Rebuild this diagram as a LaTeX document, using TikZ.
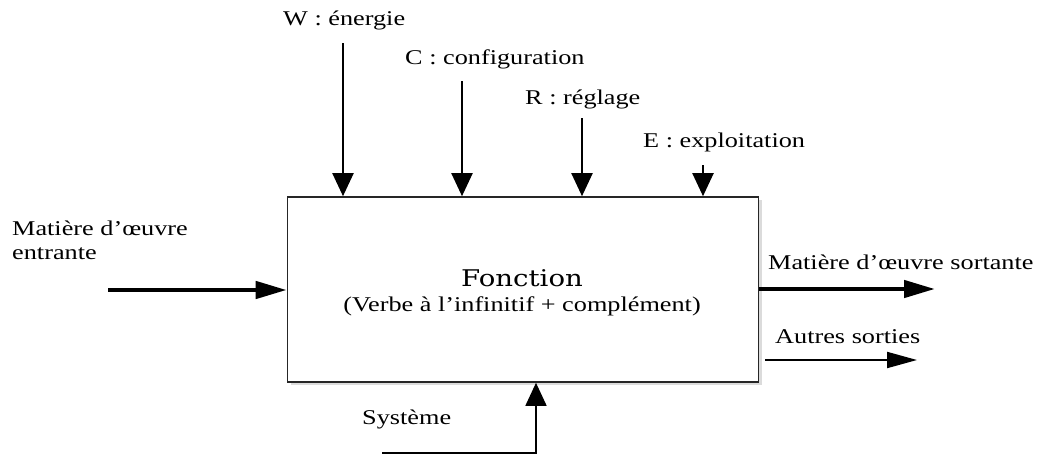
\documentclass[tikz,border=0pt]{standalone}
\usepackage{fontspec}
\setmainfont{Liberation Serif}[FakeStretch=1.25]
\newfontfamily\titlefont{DejaVu Serif}[FakeStretch=1.2]
\usetikzlibrary{arrows.meta}

\tikzset{
  lbl/.style={inner sep=0pt, anchor=base west, font=\fontsize{21}{25}\selectfont},
  fnbox/.style={draw=black!85, line width=1.6pt, fill=white, inner sep=0pt,
                minimum width=471pt, minimum height=185pt},
  ctrl/.style={line width=2pt, -{Triangle[length=23pt,width=21pt]}},
  flowthick/.style={line width=4.5pt, -{Triangle[length=31pt,width=17pt]}},
  flowthin/.style={line width=2pt, -{Triangle[length=30pt,width=16pt]}},
  support/.style={line width=1.6pt, -{Triangle[length=23pt,width=21pt]}},
}

\begin{document}
\begin{tikzpicture}[x=1pt, y=-1pt]
  \useasboundingbox[fill=white] (0,0) rectangle (1039,455);

  % soft shadow and the function box
  \fill[black!14] (290.5,200) rectangle (761.5,385);
  \node[fnbox] (fn) at (523,289.5) {};
  \node[inner sep=0pt, font=\titlefont\fontsize{23}{27}\selectfont] (fntitle) at (522,278) {Fonction};
  \node[inner sep=0pt, font=\fontsize{21}{25}\selectfont] (fnsub) at (522,306) {(Verbe à l’infinitif + complément)};

  % control inputs from above
  \node[lbl] (lw) at (283,25) {W : énergie};
  \node[lbl] (lc) at (405,64) {C : configuration};
  \node[lbl] (lr) at (525,104) {R : réglage};
  \node[lbl] (le) at (643,147) {E : exploitation};
  \coordinate (w0) at (343,43);
  \coordinate (c0) at (462,81);
  \coordinate (r0) at (582,118);
  \coordinate (e0) at (703,165);
  \draw[ctrl] (w0) -- (w0 |- fn.north);
  \draw[ctrl] (c0) -- (c0 |- fn.north);
  \draw[ctrl] (r0) -- (r0 |- fn.north);
  \draw[ctrl] (e0) -- (e0 |- fn.north);

  % incoming work material
  \node[lbl] (lin1) at (12,235) {Matière d’œuvre};
  \node[lbl] (lin2) at (12,259) {entrante};
  \coordinate (in0) at (108,290);
  \draw[flowthick] (in0) -- (in0 -| fn.west);

  % outputs
  \node[lbl] (lout) at (768,269) {Matière d’œuvre sortante};
  \coordinate (out1) at (935,289);
  \draw[flowthick] (out1 -| fn.east) -- (out1);
  \node[lbl] (lother) at (775,343) {Autres sorties};
  \coordinate (o0) at (765,360);
  \coordinate (o1) at (917,360);
  \draw[flowthin] (o0) -- (o1);

  % supporting system from below
  \node[lbl] (lsys) at (362,424) {Système};
  \coordinate (sy0) at (382,453);
  \coordinate (sy1) at (536,453);
  \draw[support] (sy0) -- (sy1) -- (sy1 |- fn.south);
\end{tikzpicture}
\end{document}
